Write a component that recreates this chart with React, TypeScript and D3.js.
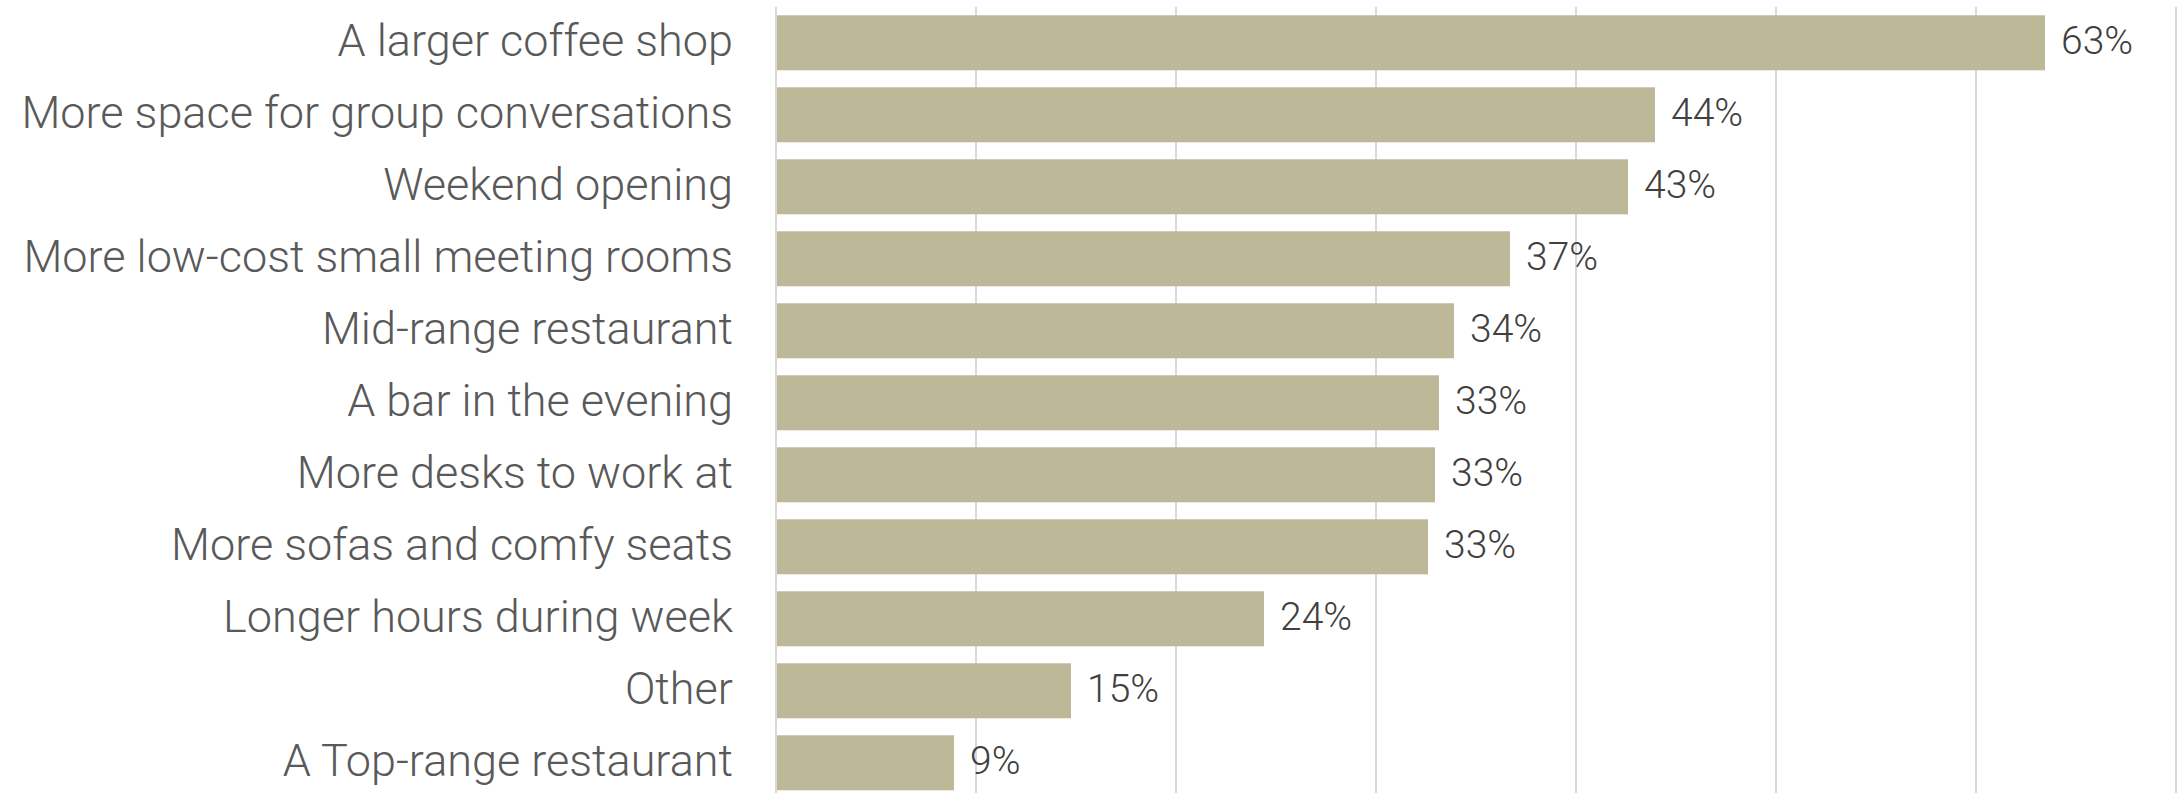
import React from 'react';
import * as d3 from 'd3';

const categories = [
  'A larger coffee shop',
  'More space for group conversations',
  'Weekend opening',
  'More low-cost small meeting rooms',
  'Mid-range restaurant',
  'A bar in the evening',
  'More desks to work at',
  'More sofas and comfy seats',
  'Longer hours during week',
  'Other',
  'A Top-range restaurant',
];
const values = [63.45, 43.95, 42.6, 36.7, 33.9, 33.15, 32.95, 32.6, 24.4, 14.75, 8.9];
const valueLabels = ['63%', '44%', '43%', '37%', '34%', '33%', '33%', '33%', '24%', '15%', '9%'];
const gridTicks = [0, 10, 20, 30, 40, 50, 60, 70];

const W = 2178;
const H = 793;
const FONT = 'Roboto, "Liberation Sans", sans-serif';

export default function App() {
  const x = d3.scaleLinear().domain([0, 70]).range([776, 2176]);
  const y = d3
    .scaleBand<string>()
    .domain(categories)
    .range([6.8, 6.8 + 72 * categories.length])
    .paddingInner(17 / 72)
    .paddingOuter(17 / 144);

  return (
    <svg
      width={W}
      height={H}
      style={{ position: 'absolute', left: 0, top: 0, background: '#fff' }}
    >
      <g>
        {gridTicks.map((t) => (
          <line
            key={t}
            x1={x(t)}
            x2={x(t)}
            y1={y.range()[0]}
            y2={y.range()[1]}
            stroke="#d9d9d9"
            strokeWidth={2}
          />
        ))}
      </g>
      <g>
        {categories.map((c, i) => (
          <rect
            key={c}
            x={x(0) + 1}
            y={y(c)}
            width={x(values[i]) - x(0) - 1}
            height={y.bandwidth()}
            fill="#bdb898"
          />
        ))}
      </g>
      <g>
        {categories.map((c) => (
          <text
            key={c}
            x={733}
            y={(y(c) as number) + y.bandwidth() / 2 + 13}
            textAnchor="end"
            fontFamily={FONT}
            fontWeight={300}
            fontSize={45}
            fill="#595959"
          >
            {c}
          </text>
        ))}
      </g>
      <g>
        {categories.map((c, i) => (
          <text
            key={c}
            x={x(values[i]) + 16}
            y={(y(c) as number) + y.bandwidth() / 2 + 11}
            fontFamily={FONT}
            fontWeight={300}
            fontSize={39}
            fill="#404040"
          >
            {valueLabels[i]}
          </text>
        ))}
      </g>
    </svg>
  );
}
